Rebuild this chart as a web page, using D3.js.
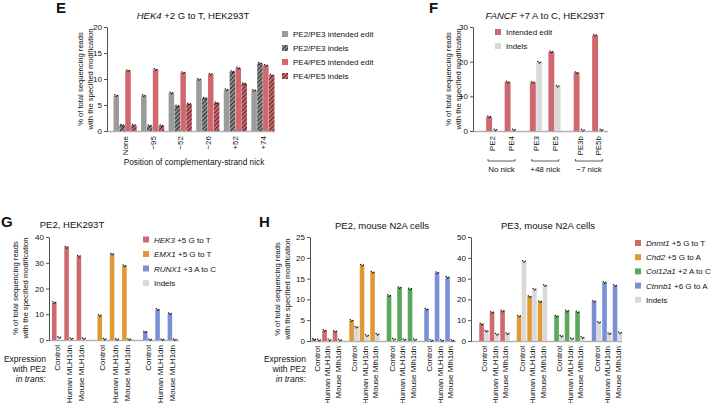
<!DOCTYPE html>
<html>
<head>
<meta charset="utf-8">
<script src="https://cdn.jsdelivr.net/npm/d3@7"></script>
<style>
  body { margin: 0; background: #fff; }
  svg text { font-family: "Liberation Sans", Arial, sans-serif; fill: #111; }
</style>
</head>
<body>
<svg id="fig" width="715" height="403"></svg>
<script>
// ---- data ----
const eGroups = ["None", "\u221295", "\u221252", "\u221226", "+52", "+74"];
const eSeries = ["PE2/PE3 intended edit", "PE2/PE3 indels", "PE4/PE5 intended edit", "PE4/PE5 indels"];
const eEdit23 = [6.8, 6.8, 7.3, 9.9, 7.9, 7.8];
const eIndel23 = [1.1, 1.0, 4.8, 6.3, 11.4, 13.0];
const eEdit45 = [11.6, 11.8, 11.2, 10.9, 12.1, 12.6];
const eIndel45 = [1.1, 1.0, 5.2, 5.4, 9.1, 10.7];
const eTicks = [0, 5, 10, 15, 20];

const fGroups = ["No nick", "+48 nick", "\u22127 nick"];
const fConds = [["PE2", "PE4"], ["PE3", "PE5"], ["PE3b", "PE5b"]];
const fEdit = [4.1, 14.1, 14.0, 22.8, 16.8, 27.6];
const fIndels = [0.3, 0.3, 19.8, 12.9, 0.2, 0.3];
const fTicks = [0, 10, 20, 30];

const gSites = ["HEK3", "EMX1", "RUNX1"];
const gEdits = ["+5 G to T", "+5 G to T", "+3 A to C"];
const gConds = ["Control", "Human MLH1dn", "Mouse MLH1dn"];
const gEdit = [[14.5, 36.0, 32.5], [9.5, 33.3, 28.8], [3.1, 11.8, 10.2]];
const gIndels = [[1.0, 0.5, 0.5], [0.3, 0.2, 0.2], [0.1, 0.1, 0.1]];
const gTicks = [0, 10, 20, 30, 40];

const hSites = ["Dnmt1", "Chd2", "Col12a1", "Ctnnb1"];
const hEdits = ["+5 G to T", "+5 G to A", "+2 A to C", "+6 G to A"];
const hConds = ["Control", "Human MLH1dn", "Mouse Mlh1dn"];
const hPE2Edit = [[0.4, 2.5, 2.3], [4.9, 18.2, 16.5], [10.9, 12.8, 12.5], [7.6, 16.4, 15.3]];
const hPE2Indels = [[0.2, 0.2, 0.2], [3.3, 1.3, 1.6], [0.4, 0.3, 0.3], [0.1, 0.1, 0.1]];
const hPE3Edit = [[8.1, 13.7, 14.4], [11.9, 21.3, 18.9], [11.9, 14.4, 13.9], [19.0, 28.1, 26.6]];
const hPE3Indels = [[4.7, 3.2, 3.5], [38.2, 24.8, 26.6], [2.3, 1.1, 1.6], [8.9, 3.5, 3.9]];
const hPE2Ticks = [0, 5, 10, 15, 20, 25];
const hPE3Ticks = [0, 10, 20, 30, 40, 50];

// ---- styles ----
const FONT = '"Liberation Sans", Arial, sans-serif';
const RED = "#d0686f", ORANGE = "#e09a35", GREEN = "#5aa85a", BLUE = "#7b8fd6";
const GRAY = "#9b9b9b", LIGHT = "#d9d9d9";

const svg = d3.select("#fig");
const defs = svg.append("defs");

function hatch(id, base, line) {
    const p = defs.append("pattern").attr("id", id)
        .attr("patternUnits", "userSpaceOnUse")
        .attr("width", 3).attr("height", 3)
        .attr("patternTransform", "rotate(45)");
    p.append("rect").attr("width", 3).attr("height", 3).attr("fill", base);
    p.append("line").attr("x1", 0.5).attr("x2", 0.5).attr("y1", 0).attr("y2", 3)
        .attr("stroke", line).attr("stroke-width", 1.1);
}
hatch("hatchGray", "#8f8f8f", "#2e2e2e");
hatch("hatchRed", "#cc6870", "#5e2529");

function txt(x, y, s, size, opts = {}) {
    const t = svg.append("text").attr("x", x).attr("y", y)
        .attr("font-size", size).attr("font-family", FONT)
        .attr("text-anchor", opts.anchor || "start");
    if (opts.weight) t.attr("font-weight", opts.weight);
    if (opts.rotate) t.attr("transform", `rotate(${opts.rotate},${x},${y})`);
    if (opts.italic) {
        t.append("tspan").attr("font-style", "italic").text(opts.italic);
        t.append("tspan").text(s);
    } else t.text(s);
    return t;
}

// Grouped bar panel: group band > condition band > series band
function drawPanel(c) {
    const y = d3.scaleLinear().domain([0, c.yMax]).range([c.base, c.top]);
    const gx = d3.scaleBand().domain(c.groups).range(c.xRange).paddingInner(c.groupPad).paddingOuter(0);
    const cx = d3.scaleBand().domain(d3.range(c.nCond)).range([0, gx.bandwidth()]);
    const sx = d3.scaleBand().domain(d3.range(c.nSeries)).range([0, cx.bandwidth()])
        .paddingInner(0.06).paddingOuter(c.seriesPad);
    const xOf = d => gx(d.group) + cx(d.cond) + sx(d.series);

    svg.append("line")
        .attr("x1", c.axisX).attr("x2", c.axisEnd)
        .attr("y1", c.base + 0.5).attr("y2", c.base + 0.5)
        .attr("stroke", "#b3b3b3").attr("stroke-width", 1.3);

    svg.append("g").selectAll("rect")
        .data(c.bars)
        .join("rect")
        .attr("x", xOf)
        .attr("y", d => y(d.value))
        .attr("width", sx.bandwidth())
        .attr("height", d => c.base - y(d.value))
        .attr("fill", d => d.fill);

    // replicate dots near the bar top
    const jitter = [[-1.3, -0.8], [0, 0.6], [1.3, -0.2]];
    svg.append("g").selectAll("circle")
        .data(c.bars.flatMap(d => jitter.map(j => ({ d, j }))))
        .join("circle")
        .attr("cx", o => xOf(o.d) + sx.bandwidth() / 2 + o.j[0])
        .attr("cy", o => y(o.d.value) + o.j[1])
        .attr("r", 0.75)
        .attr("fill", "#111");

    const ax = svg.append("g")
        .attr("transform", `translate(${c.axisX},0)`)
        .call(d3.axisLeft(y).tickValues(c.ticks).tickSize(3).tickSizeOuter(0).tickPadding(2));
    ax.attr("font-size", 8).attr("font-family", FONT);
    ax.selectAll("path, line").attr("stroke", "#222").attr("stroke-width", 0.8);
    ax.selectAll("text").attr("fill", "#111");

    svg.append("g").selectAll("text")
        .data(c.labels)
        .join("text")
        .attr("transform", d => `translate(${gx(d.group) + cx(d.cond) + cx.bandwidth() / 2 + 3},${c.base + 5}) rotate(-90)`)
        .attr("text-anchor", "end")
        .attr("font-size", 8)
        .attr("font-family", FONT)
        .text(d => d.text);

    return { gx, cx, y };
}

function yLabel(x, yMid) {
    txt(x, yMid, "% of total sequencing reads", 7.6, { anchor: "middle", rotate: -90 });
    txt(x + 9.5, yMid, "with the specified modification", 7.6, { anchor: "middle", rotate: -90 });
}

function legend(x, y0, step, items) {
    items.forEach((it, i) => {
        const cy = y0 + i * step;
        svg.append("rect").attr("x", x).attr("y", cy - 3).attr("width", 6).attr("height", 6).attr("fill", it.fill);
        txt(x + 11, cy + 3, it.text, 8, { italic: it.italic });
    });
}

// ---- Panel E ----
txt(56, 13, "E", 15, { weight: "bold" });
txt(193, 19, " +2 G to T, HEK293T", 9.5, { anchor: "middle", italic: "HEK4" });
const eFills = [GRAY, "url(#hatchGray)", RED, "url(#hatchRed)"];
const eVals = [eEdit23, eIndel23, eEdit45, eIndel45];
drawPanel({
    yMax: 20, base: 131, top: 27, ticks: eTicks,
    groups: eGroups, xRange: [113.5, 274.5], groupPad: 0.16,
    nCond: 1, nSeries: 4, seriesPad: 0,
    axisX: 107, axisEnd: 275,
    bars: eGroups.flatMap((g, i) => eVals.map((arr, s) => ({ group: g, cond: 0, series: s, value: arr[i], fill: eFills[s] }))),
    labels: eGroups.map(g => ({ group: g, cond: 0, text: g }))
});
yLabel(83, 79);
txt(194, 165, "Position of complementary-strand nick", 8.3, { anchor: "middle" });
legend(282, 34, 14, eSeries.map((s, i) => ({ text: s, fill: eFills[i] })));

// ---- Panel F ----
txt(429, 13, "F", 15, { weight: "bold" });
txt(545, 19, " +7 A to C, HEK293T", 9.5, { anchor: "middle", italic: "FANCF" });
const fBars = [];
const fLabels = [];
fGroups.forEach((g, gi) => fConds[gi].forEach((cn, ci) => {
    const k = gi * 2 + ci;
    fBars.push({ group: g, cond: ci, series: 0, value: fEdit[k], fill: RED });
    fBars.push({ group: g, cond: ci, series: 1, value: fIndels[k], fill: LIGHT });
    fLabels.push({ group: g, cond: ci, text: cn });
}));
const fScales = drawPanel({
    yMax: 30, base: 131, top: 27, ticks: fTicks,
    groups: fGroups, xRange: [483, 607.5], groupPad: 0.154,
    nCond: 2, nSeries: 2, seriesPad: 0.5,
    axisX: 473, axisEnd: 608,
    bars: fBars, labels: fLabels
});
yLabel(451, 79);
legend(495, 32, 14, [{ text: "Intended edit", fill: RED }, { text: "Indels", fill: LIGHT }]);
fGroups.forEach(g => {
    const x0 = fScales.gx(g) + 5, x1 = fScales.gx(g) + fScales.gx.bandwidth() - 5;
    svg.append("path")
        .attr("d", `M${x0},159 V161 H${x1} V159`)
        .attr("fill", "none").attr("stroke", "#333").attr("stroke-width", 0.8);
    txt((x0 + x1) / 2, 172, g, 8, { anchor: "middle" });
});

// ---- shared builder for G / H ----
function siteBars(sites, edit, indels, colors, conds) {
    const bars = [], labels = [];
    sites.forEach((s, gi) => conds.forEach((cn, ci) => {
        bars.push({ group: s, cond: ci, series: 0, value: edit[gi][ci], fill: colors[gi] });
        bars.push({ group: s, cond: ci, series: 1, value: indels[gi][ci], fill: LIGHT });
        labels.push({ group: s, cond: ci, text: cn });
    }));
    return { bars, labels };
}
function expressionNote(xr) {
    txt(xr, 362, "Expression", 8.5, { anchor: "end" });
    txt(xr, 372, "with PE2", 8.5, { anchor: "end" });
    txt(xr, 382, "", 8.5, { anchor: "end", italic: "in trans:" });
}

// ---- Panel G ----
txt(1, 227, "G", 15, { weight: "bold" });
txt(72, 228, "PE2, HEK293T", 9.5, { anchor: "middle" });
const gColors = [RED, ORANGE, BLUE];
const gData = siteBars(gSites, gEdit, gIndels, gColors, gConds);
drawPanel({
    yMax: 40, base: 340, top: 237, ticks: gTicks,
    groups: gSites, xRange: [50.5, 178.5], groupPad: 0.187,
    nCond: 3, nSeries: 2, seriesPad: 0.3,
    axisX: 49, axisEnd: 179,
    bars: gData.bars, labels: gData.labels
});
yLabel(18, 288);
expressionNote(46);
legend(143, 239.5, 14.5, gSites.map((s, i) => ({ italic: s, text: " " + gEdits[i], fill: gColors[i] }))
    .concat([{ text: "Indels", fill: LIGHT }]));

// ---- Panel H ----
txt(259, 227, "H", 15, { weight: "bold" });
const hColors = [RED, ORANGE, GREEN, BLUE];
txt(382, 229, "PE2, mouse N2A cells", 9.5, { anchor: "middle" });
const h2 = siteBars(hSites, hPE2Edit, hPE2Indels, hColors, hConds);
drawPanel({
    yMax: 25, base: 341, top: 237, ticks: hPE2Ticks,
    groups: hSites, xRange: [311.25, 455.25], groupPad: 0.16,
    nCond: 3, nSeries: 2, seriesPad: 0.1,
    axisX: 310, axisEnd: 456,
    bars: h2.bars, labels: h2.labels
});
yLabel(280, 289);
expressionNote(306);

txt(548, 229, "PE3, mouse N2A cells", 9.5, { anchor: "middle" });
const h3 = siteBars(hSites, hPE3Edit, hPE3Indels, hColors, hConds);
drawPanel({
    yMax: 50, base: 341, top: 237, ticks: hPE3Ticks,
    groups: hSites, xRange: [478.75, 622.75], groupPad: 0.16,
    nCond: 3, nSeries: 2, seriesPad: 0.1,
    axisX: 471, axisEnd: 622,
    bars: h3.bars, labels: h3.labels
});
legend(635, 243, 14.2, hSites.map((s, i) => ({ italic: s, text: " " + hEdits[i], fill: hColors[i] }))
    .concat([{ text: "Indels", fill: LIGHT }]));
</script>
</body>
</html>
